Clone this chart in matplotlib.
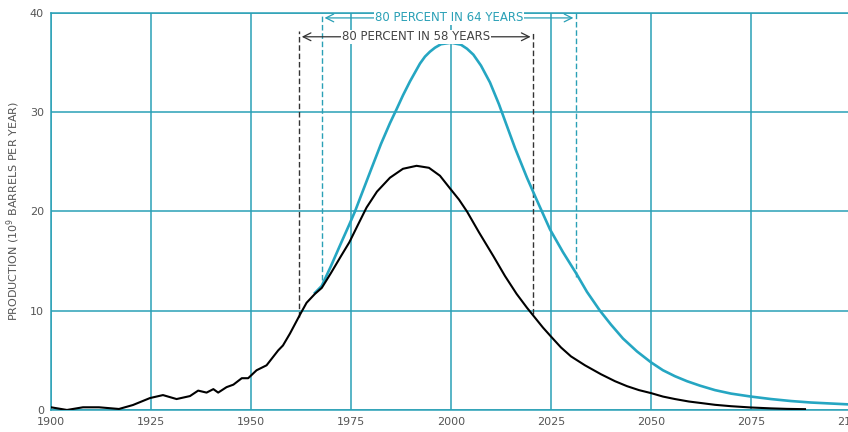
import matplotlib.pyplot as plt
import numpy as np

# historical + projected production (black)
years_low = [1900, 1904, 1908, 1912, 1917, 1920.5, 1924.75, 1928, 1931.4, 1934.75,
             1936.8, 1938.9, 1940.6, 1941.8, 1943.9, 1945.6, 1947.7, 1949.3, 1951.4,
             1953.9, 1956.8, 1958, 1959.75, 1962.25, 1963.9, 1966, 1967.7, 1970,
             1972.5, 1974.6, 1976.8, 1978.9, 1981.5, 1984.75, 1988, 1991.4, 1994.5,
             1997.25, 2000, 2002, 2004, 2007, 2010.6, 2013.5, 2016.4, 2019, 2021,
             2023, 2025, 2027.5, 2030, 2033.5, 2037.5, 2041, 2044, 2047, 2050, 2053,
             2056, 2059.5, 2062.5, 2066, 2070, 2075, 2080, 2084, 2088.5]
prod_low = [0.27, 0.0, 0.27, 0.27, 0.1, 0.5, 1.2, 1.5, 1.1, 1.4,
            1.95, 1.75, 2.1, 1.75, 2.3, 2.55, 3.2, 3.2, 4.0,
            4.5, 6.0, 6.5, 7.7, 9.6, 10.8, 11.7, 12.3, 13.8,
            15.5, 16.9, 18.7, 20.4, 22.0, 23.4, 24.3, 24.6, 24.4,
            23.6, 22.2, 21.2, 20.0, 17.9, 15.5, 13.5, 11.7, 10.3, 9.3,
            8.3, 7.4, 6.3, 5.4, 4.5, 3.6, 2.9, 2.4, 2.0, 1.7, 1.35,
            1.1, 0.85, 0.7, 0.52, 0.38, 0.25, 0.16, 0.11, 0.08]

# higher estimate (blue)
years_high = [1966, 1967.7, 1970, 1972.5, 1974.6, 1976, 1978, 1980, 1982.5, 1984.75,
              1986.4, 1988, 1989.75, 1991, 1992.25, 1993.5, 1994.75, 1996, 1997.5, 2000,
              2002.5, 2004, 2005.6, 2007.5, 2009.75, 2012, 2014, 2016, 2019, 2021.4,
              2024.75, 2028, 2031.4, 2034, 2037.25, 2040, 2043, 2046.5, 2050, 2053,
              2056, 2059, 2062.25, 2066, 2070, 2075, 2080, 2085, 2090, 2095, 2100]
prod_high = [11.8, 12.5, 14.5, 16.8, 18.7, 20.0, 22.1, 24.2, 26.8, 28.9,
             30.3, 31.7, 33.1, 34.0, 34.9, 35.6, 36.1, 36.5, 36.85, 37.0,
             36.8, 36.4, 35.8, 34.7, 33.0, 30.8, 28.6, 26.4, 23.4, 21.2,
             18.2, 15.9, 13.7, 11.9, 10.0, 8.6, 7.2, 5.9, 4.8, 4.0,
             3.4, 2.9, 2.45, 2.0, 1.65, 1.35, 1.1, 0.9, 0.75, 0.65, 0.55]

xticks = [1900, 1925, 1950, 1975, 2000, 2025, 2050, 2075, 2100]
yticks = [0, 10, 20, 30, 40]

teal = '#2aa0b6'
blue = '#25a6c2'
gray = '#555555'

fig = plt.figure(figsize=(8.48, 4.32), dpi=100)
ax = fig.add_axes([0.0601, 0.051, 0.9434, 0.919])

ax.plot(years_high, prod_high, color=blue, lw=1.9, zorder=3, solid_joinstyle='round')
ax.plot(years_low, prod_low, color='black', lw=1.5, zorder=4, solid_joinstyle='round')

# 80 percent markers
ax.plot([1962, 1962], [9.4, 38.2], color='#333333', lw=1.0, ls=(0, (4, 2)), zorder=2)
ax.plot([2020.6, 2020.6], [9.7, 38.2], color='#333333', lw=1.0, ls=(0, (4, 2)), zorder=2)
ax.plot([1967.7, 1967.7], [13.1, 40], color=teal, lw=1.0, ls=(0, (4, 2)), zorder=2)
ax.plot([2031.3, 2031.3], [13.4, 40], color=teal, lw=1.0, ls=(0, (4, 2)), zorder=2)

ax.annotate('', xy=(1962, 37.6), xytext=(2020.6, 37.6),
            arrowprops=dict(arrowstyle='<->', color='#333333', lw=0.9, mutation_scale=14))
ax.text(1991.3, 37.6, '80 PERCENT IN 58 YEARS', color='#444444', fontsize=8.5,
        ha='center', va='center', bbox=dict(facecolor='white', edgecolor='none', pad=0.5))
ax.annotate('', xy=(1967.7, 39.5), xytext=(2031.3, 39.5),
            arrowprops=dict(arrowstyle='<->', color=teal, lw=0.9, mutation_scale=14))
ax.text(1999.5, 39.5, '80 PERCENT IN 64 YEARS', color=teal, fontsize=8.5,
        ha='center', va='center', bbox=dict(facecolor='white', edgecolor='none', pad=0.5))

ax.set_xlim(1900, 2100)
ax.set_ylim(0, 40)
ax.set_xticks(xticks)
ax.set_yticks(yticks)
ax.grid(True, color=teal, lw=1.1)
ax.set_axisbelow(True)
for s in ax.spines.values():
    s.set_color(teal)
    s.set_linewidth(1.1)
ax.tick_params(length=0, labelsize=8, labelcolor=gray)
ax.tick_params(axis='y', pad=5)
ax.tick_params(axis='x', pad=5)
ax.set_ylabel('PRODUCTION (10$^9$ BARRELS PER YEAR)', color=gray, fontsize=8, labelpad=6)

fig.savefig('out.png', dpi=100)
